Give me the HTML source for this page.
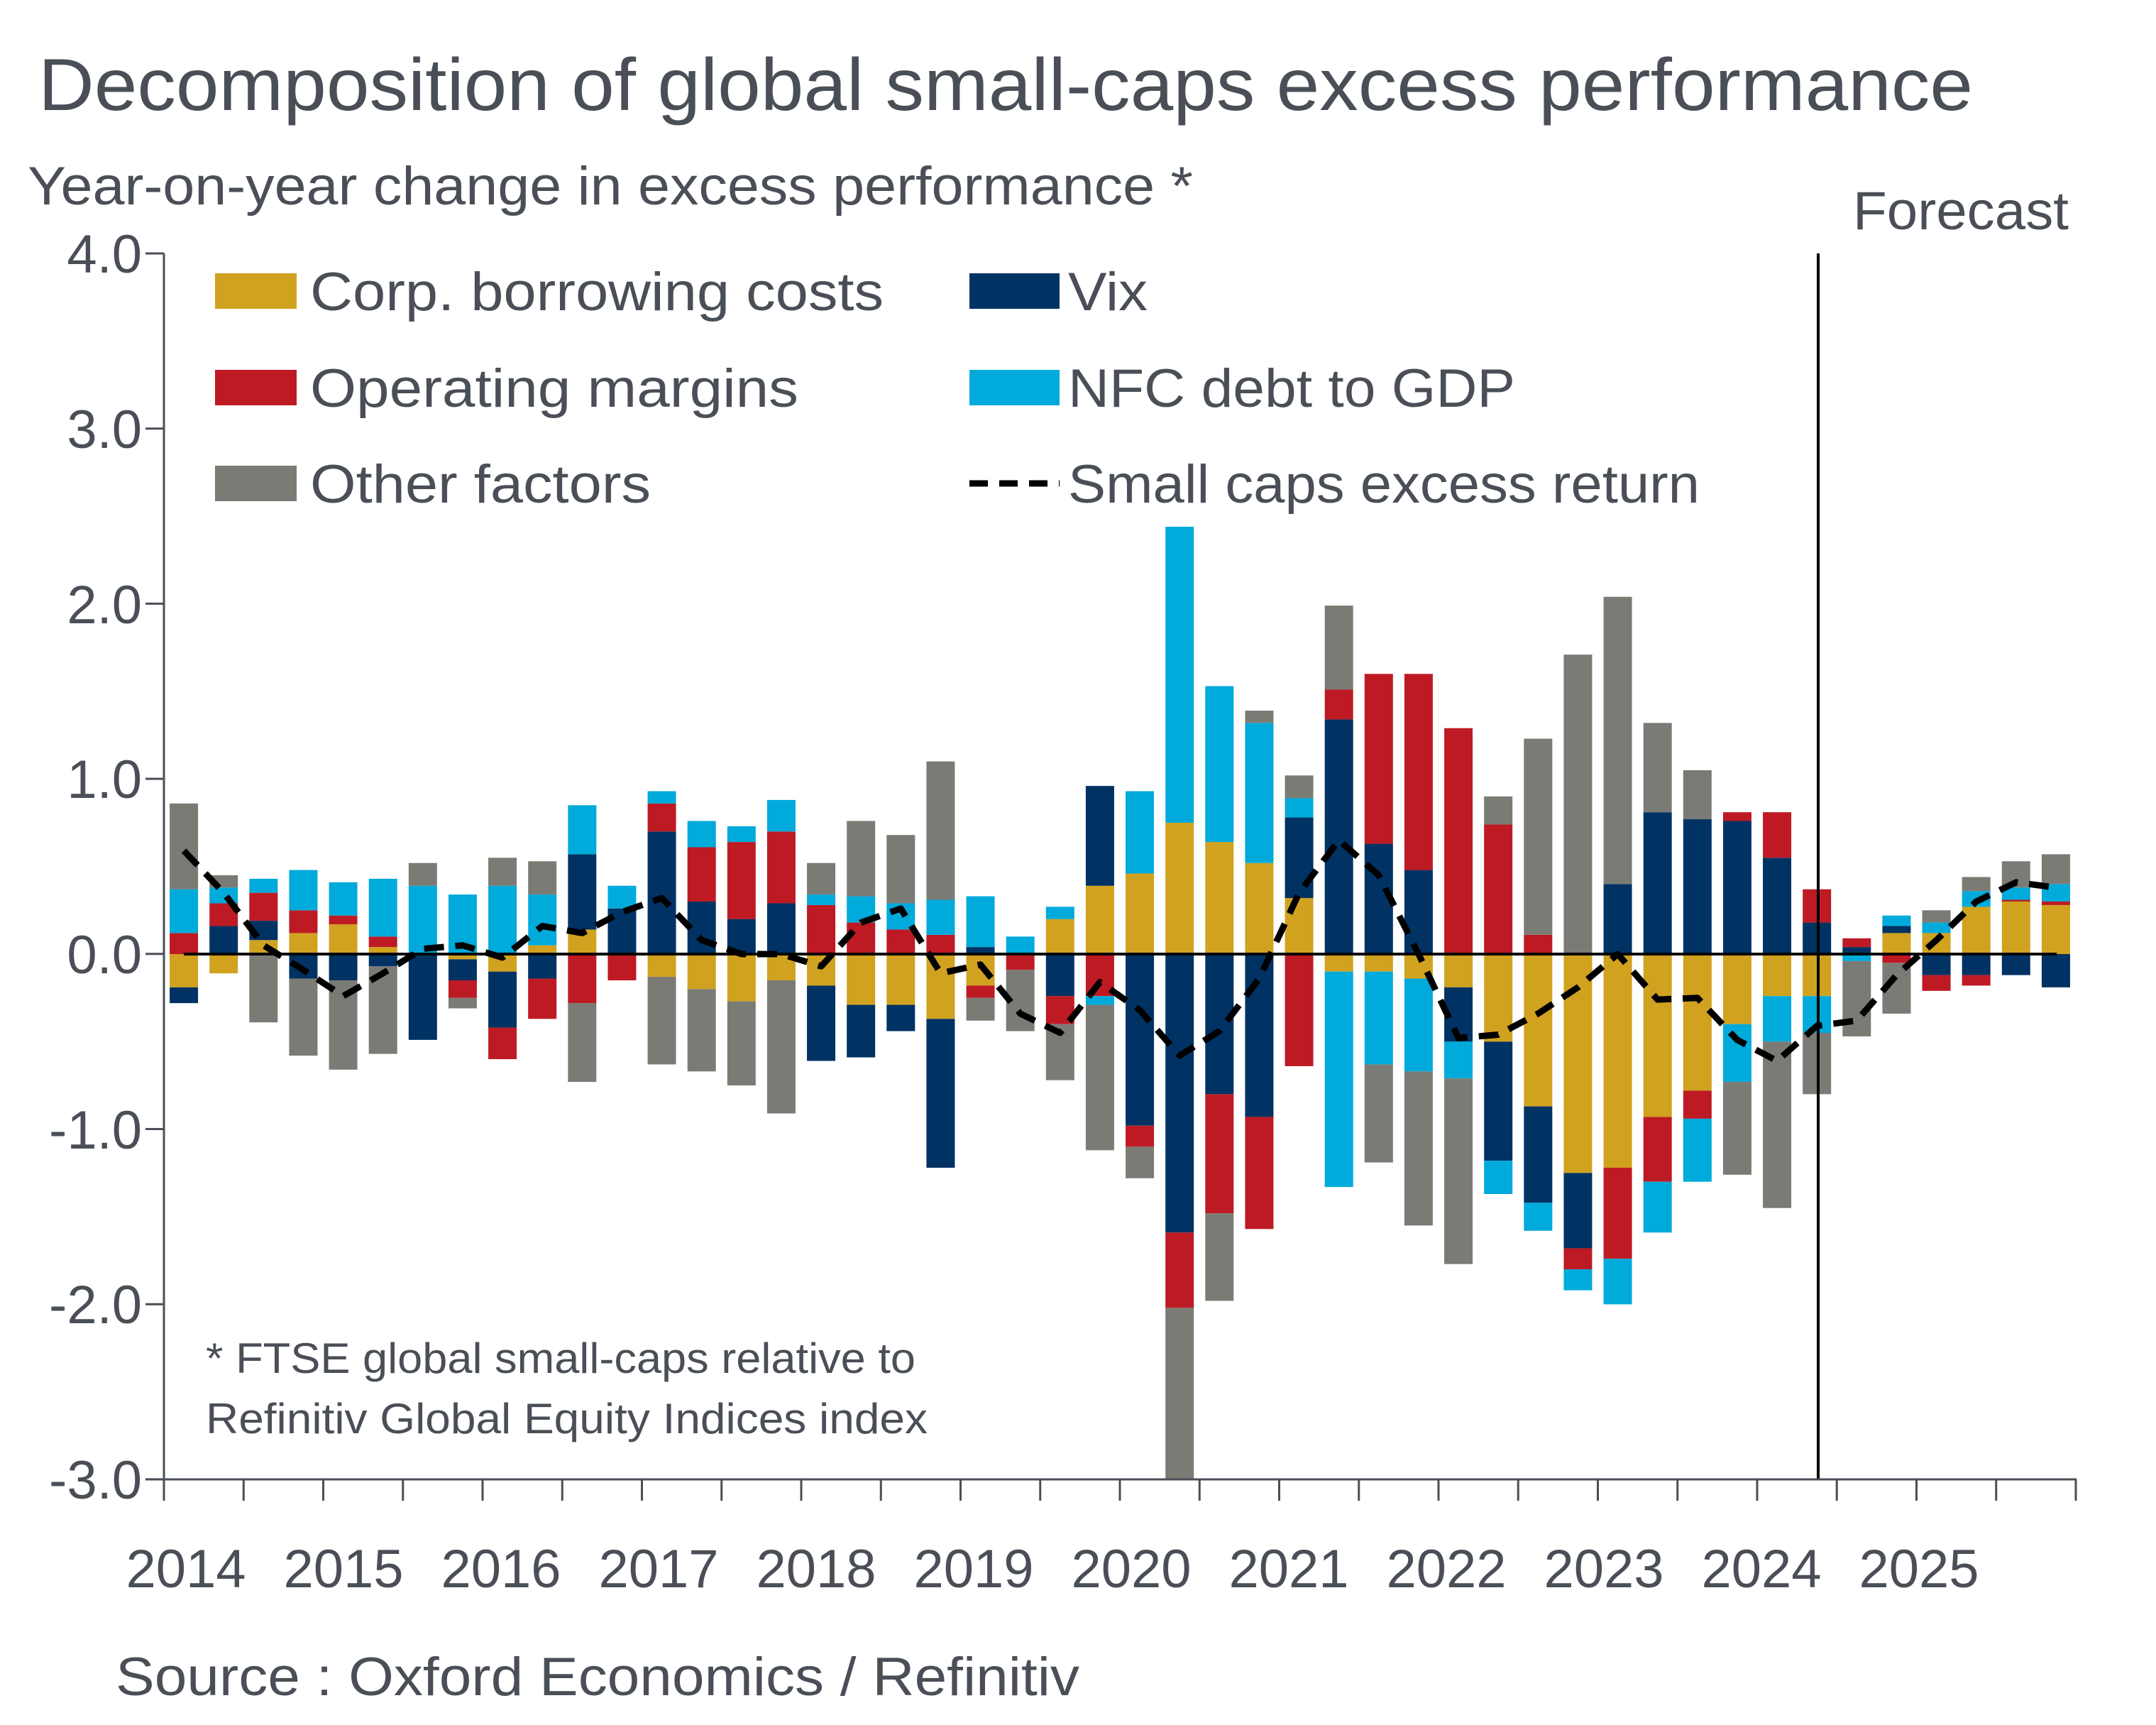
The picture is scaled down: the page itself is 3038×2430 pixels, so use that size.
<!DOCTYPE html>
<html><head><meta charset="utf-8"><style>
html,body{margin:0;padding:0;background:#fff;}
svg{display:block;}
text{font-family:"Liberation Sans",sans-serif;fill:#4a4f57;}
</style></head><body>
<svg id="s" width="3038" height="2430" viewBox="0 0 3038 2430" xmlns="http://www.w3.org/2000/svg">
<rect width="3038" height="2430" fill="#fff"/>
<text x="54" y="155" font-size="104" textLength="2726" lengthAdjust="spacingAndGlyphs">Decomposition of global small-caps excess performance</text>
<text x="39" y="288" font-size="76" textLength="1642" lengthAdjust="spacingAndGlyphs">Year-on-year change in excess performance *</text>
<text x="2611" y="323" font-size="76" textLength="304" lengthAdjust="spacingAndGlyphs">Forecast</text>
<g id="bars"></g>
<line x1="259" y1="1344" x2="2898" y2="1344" stroke="#000" stroke-width="4"/>
<polyline id="ln" fill="none" stroke="#000" stroke-width="9" stroke-dasharray="28,16" stroke-linejoin="round"/>
<line x1="2562" y1="357" x2="2562" y2="2084" stroke="#000" stroke-width="4"/>
<g stroke="#4a4f57" stroke-width="3" id="axes">
<line x1="231" y1="357" x2="231" y2="2085"/>
<line x1="205" y1="2084" x2="2926" y2="2084"/>
</g>
<g font-size="76" text-anchor="end">
<text x="200" y="384">4.0</text>
<text x="200" y="631">3.0</text>
<text x="200" y="878">2.0</text>
<text x="200" y="1124">1.0</text>
<text x="200" y="1371">0.0</text>
<text x="200" y="1618">-1.0</text>
<text x="200" y="1864">-2.0</text>
<text x="200" y="2111">-3.0</text>
</g>
<g font-size="76" text-anchor="middle">
<text x="262" y="2236">2014</text><text x="484" y="2236">2015</text><text x="706" y="2236">2016</text>
<text x="928" y="2236">2017</text><text x="1150" y="2236">2018</text><text x="1372" y="2236">2019</text>
<text x="1594" y="2236">2020</text><text x="1816" y="2236">2021</text><text x="2038" y="2236">2022</text>
<text x="2260" y="2236">2023</text><text x="2482" y="2236">2024</text><text x="2704" y="2236">2025</text>
</g>
<text x="163" y="2388" font-size="76" textLength="1358" lengthAdjust="spacingAndGlyphs">Source : Oxford Economics / Refinitiv</text>
<text x="290" y="1934" font-size="60" textLength="1000" lengthAdjust="spacingAndGlyphs">* FTSE global small-caps relative to</text>
<text x="290" y="2019" font-size="60" textLength="1017" lengthAdjust="spacingAndGlyphs">Refinitiv Global Equity Indices index</text>
<!-- legend -->
<rect x="303" y="385" width="115" height="50" fill="#D0A21F"/>
<rect x="303" y="521" width="115" height="50" fill="#BE1A24"/>
<rect x="303" y="656" width="115" height="50" fill="#7B7B75"/>
<rect x="1366" y="385" width="127" height="50" fill="#003263"/>
<rect x="1366" y="521" width="127" height="50" fill="#00AADB"/>
<line x1="1366" y1="681" x2="1493" y2="681" stroke="#000" stroke-width="9" stroke-dasharray="26,16"/>
<g font-size="76">
<text x="437" y="437" textLength="808" lengthAdjust="spacingAndGlyphs">Corp. borrowing costs</text>
<text x="437" y="573" textLength="688" lengthAdjust="spacingAndGlyphs">Operating margins</text>
<text x="437" y="708" textLength="480" lengthAdjust="spacingAndGlyphs">Other factors</text>
<text x="1505" y="437" textLength="112" lengthAdjust="spacingAndGlyphs">Vix</text>
<text x="1505" y="573" textLength="630" lengthAdjust="spacingAndGlyphs">NFC debt to GDP</text>
<text x="1505" y="708" textLength="890" lengthAdjust="spacingAndGlyphs">Small caps excess return</text>
</g>
</svg>
<script>
var C={y:"#D0A21F",n:"#003263",r:"#BE1A24",c:"#00AADB",g:"#7B7B75"};
var D=[
["r.12 c.37 g.86","y-.19 n-.28"],
["n.16 r.29 c.38 g.45","y-.11"],
["y.08 n.19 r.35 c.43","g-.39"],
["y.12 r.25 c.48","n-.14 g-.58"],
["y.17 r.22 c.41","n-.15 g-.66"],
["y.04 r.10 c.43","n-.07 g-.57"],
["c.39 g.52","n-.49"],
["c.34","y-.03 n-.15 r-.25 g-.31"],
["c.39 g.55","y-.1 n-.42 r-.6"],
["y.05 c.34 g.53","n-.14 r-.37"],
["y.14 n.57 c.85","r-.28 g-.73"],
["n.26 c.39","r-.15"],
["n.70 r.86 c.93","y-.13 g-.63"],
["n.30 r.61 c.76","y-.2 g-.67"],
["n.20 r.64 c.73","y-.27 g-.75"],
["n.29 r.70 c.88","y-.15 g-.91"],
["r.28 c.34 g.52","y-.18 n-.61"],
["r.18 c.33 g.76","y-.29 n-.59"],
["r.14 c.29 g.68","y-.29 n-.44"],
["r.11 c.31 g1.10","y-.37 n-1.22"],
["n.04 c.33","y-.18 r-.25 g-.38"],
["c.10","r-.09 g-.44"],
["y.20 c.27","n-.24 r-.40 g-.72"],
["y.39 n.96","r-.24 c-.29 g-1.12"],
["y.46 c.93","n-.98 r-1.10 g-1.28"],
["y.75 c2.44","n-1.59 r-2.02 g-3.0"],
["y.64 c1.53","n-.80 r-1.48 g-1.98"],
["y.52 c1.32 g1.39","n-.93 r-1.57"],
["y.32 n.78 c.89 g1.02","r-.64"],
["n1.34 r1.51 g1.99","y-.10 c-1.33"],
["n.63 r1.60","y-.10 c-.63 g-1.19"],
["n.48 r1.60","y-.14 c-.67 g-1.55"],
["r1.29","y-.19 n-.50 c-.71 g-1.77"],
["r.74 g.90","y-.50 n-1.18 c-1.37"],
["r.11 g1.23","y-.87 n-1.42 c-1.58"],
["g1.71","y-1.25 n-1.68 r-1.80 c-1.92"],
["n.40 g2.04","y-1.22 r-1.74 c-2.0"],
["n.81 g1.32","y-.93 r-1.30 c-1.59"],
["n.77 g1.05","y-.78 r-.94 c-1.30"],
["n.76 r.81","y-.40 c-.73 g-1.26"],
["n.55 r.81","y-.24 c-.50 g-1.45"],
["n.18 r.37","y-.24 c-.45 g-.80"],
["n.04 r.09","c-.04 g-.47"],
["y.12 n.16 c.22","r-.05 g-.34"],
["y.12 c.18 g.25","n-.12 r-.21"],
["y.27 c.36 g.44","n-.12 r-.18"],
["y.30 r.31 c.38 g.53","n-.12"],
["y.28 r.30 c.40 g.57","n-.19"]];
var L=[.59,.35,.05,-.09,-.24,-.11,.03,.05,-.02,.16,.12,.24,.32,.08,0,0,-.07,.18,.26,-.11,-.06,-.34,-.45,-.16,-.32,-.58,-.44,-.14,.35,.65,.45,0,-.48,-.46,-.34,-.19,0,-.26,-.25,-.49,-.61,-.41,-.38,-.12,.08,.30,.41,.38];
var Y0=1344,U=246.7,W=56.125,BW=40,ns="http://www.w3.org/2000/svg",g=document.getElementById("bars");
function Y(v){return Y0-v*U;}
D.forEach(function(b,i){var cx=231+(i+.5)*W;
 b.forEach(function(s){var prev=0;if(!s)return;s.split(" ").forEach(function(t){var col=t[0],v=parseFloat(t.slice(1));
  var r=document.createElementNS(ns,"rect");var a=Y(prev),z=Y(v);if(z>2084)z=2084;
  r.setAttribute("x",cx-BW/2);r.setAttribute("width",BW);r.setAttribute("y",Math.min(a,z));r.setAttribute("height",Math.abs(z-a));r.setAttribute("fill",C[col]);g.appendChild(r);prev=v;});});});
document.getElementById("ln").setAttribute("points",L.map(function(v,i){return (231+(i+.5)*W).toFixed(1)+","+Y(v).toFixed(1);}).join(" "));
var ax=document.getElementById("axes");
for(var k=0;k<=24;k++){var x=231+k*112.25;var l=document.createElementNS(ns,"line");l.setAttribute("x1",x);l.setAttribute("x2",x);l.setAttribute("y1",2084);l.setAttribute("y2",2114);ax.appendChild(l);}
for(var k=0;k<=7;k++){var y=357+k*246.7;var l=document.createElementNS(ns,"line");l.setAttribute("x1",205);l.setAttribute("x2",231);l.setAttribute("y1",y);l.setAttribute("y2",y);ax.appendChild(l);}
</script>
</body></html>
